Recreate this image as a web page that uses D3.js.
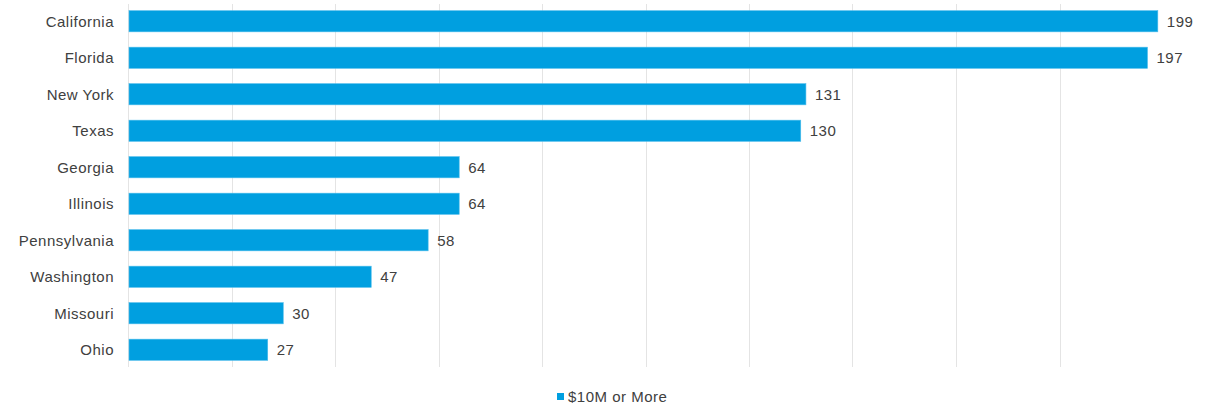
<!DOCTYPE html>
<html>
<head>
<meta charset="utf-8">
<script src="https://cdn.jsdelivr.net/npm/d3@7"></script>
<style>
  body { margin: 0; background: #fff; }
  svg text { font-family: "Liberation Sans", Arial, sans-serif; fill: #404040; letter-spacing: 0.5px; }
</style>
</head>
<body>
<svg width="1218" height="406"></svg>
<script>
var states = ["California", "Florida", "New York", "Texas", "Georgia", "Illinois", "Pennsylvania", "Washington", "Missouri", "Ohio"];
var counts = [199, 197, 131, 130, 64, 64, 58, 47, 30, 27];
var seriesName = "$10M or More";
var gridTicks = [0, 20, 40, 60, 80, 100, 120, 140, 160, 180];

var data = states.map((s, i) => ({state: s, count: counts[i]}));

var svg = d3.select("svg");
var plotLeft = 128, plotRight = 1163, plotTop = 3, plotBottom = 368;

var xs = d3.scaleLinear().domain([0, 200]).range([plotLeft, plotRight]);
var ys = d3.scaleBand().domain(states).range([plotTop, plotBottom]).paddingInner(0.42).paddingOuter(0.21);

// vertical grid
svg.append("g")
  .selectAll("line")
  .data(gridTicks)
  .enter()
  .append("line")
  .attr("x1", d => Math.round(xs(d)) + 0.5)
  .attr("x2", d => Math.round(xs(d)) + 0.5)
  .attr("y1", 4)
  .attr("y2", 367)
  .attr("stroke", "#e4e4e4")
  .attr("stroke-width", 1);

// bars
svg.append("g")
  .selectAll("rect")
  .data(data)
  .enter()
  .append("rect")
  .attr("x", xs(0) + 1)
  .attr("y", d => ys(d.state))
  .attr("width", d => xs(d.count) - xs(0) - 1)
  .attr("height", ys.bandwidth())
  .attr("fill", "#009fe0")
  .attr("stroke", "#4cbcec")
  .attr("stroke-width", 0.6);

// category labels
svg.append("g")
  .selectAll("text")
  .data(data)
  .enter()
  .append("text")
  .attr("x", 114)
  .attr("y", d => ys(d.state) + ys.bandwidth() / 2)
  .attr("dy", "0.35em")
  .attr("text-anchor", "end")
  .attr("font-size", 15)
  .text(d => d.state);

// value labels
svg.append("g")
  .selectAll("text")
  .data(data)
  .enter()
  .append("text")
  .attr("x", d => xs(d.count) + 9)
  .attr("y", d => ys(d.state) + ys.bandwidth() / 2)
  .attr("dy", "0.35em")
  .attr("font-size", 15)
  .text(d => d.count);

// legend
var lg = svg.append("g").attr("transform", "translate(557,393)");
lg.append("rect").attr("width", 7).attr("height", 7).attr("fill", "#009fe0");
lg.append("text").attr("x", 11).attr("y", 9).attr("font-size", 15).text(seriesName);
</script>
</body>
</html>
